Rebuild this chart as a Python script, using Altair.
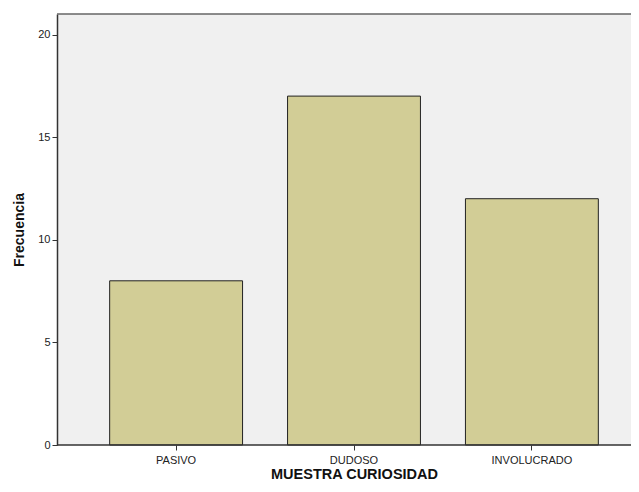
import altair as alt
import pandas as pd

categories = ["PASIVO", "DUDOSO", "INVOLUCRADO"]
frecuencias = [8, 17, 12]
y_ticks = [0, 5, 10, 15, 20]

df = pd.DataFrame({"cat": categories, "freq": frecuencias})

W = 574
H = 431

bars = alt.Chart(df).mark_bar(
    color="#d2cd96", stroke="#222222", strokeWidth=1
).encode(
    x=alt.X("cat:N", sort=categories,
            scale=alt.Scale(range=[0, 594], paddingInner=0.253, paddingOuter=0.296),
            axis=alt.Axis(title="MUESTRA CURIOSIDAD", labelAngle=0, labelFontSize=11,
                          labelColor="#222222", labelFont="Arial",
                          titleFont="Arial", titleFontSize=14.5, titleFontWeight="bold",
                          titleColor="#111111", titlePadding=2, titleX=297,
                          tickSize=5, tickColor="#333333", domain=False,
                          labelPadding=4)),
    y=alt.Y("freq:Q", scale=alt.Scale(domain=[0, 21], nice=False),
            axis=alt.Axis(title="Frecuencia", values=y_ticks, labelFontSize=11,
                          labelColor="#222222", labelFont="Arial",
                          titleFont="Arial", titleFontSize=14, titleFontWeight="bold",
                          titleColor="#111111", titlePadding=11,
                          tickSize=5, tickColor="#333333", domainColor="#333333",
                          domainWidth=1.5, grid=False, labelPadding=2)),
)

frame = pd.DataFrame({"y": [21, 0], "c": ["top", "bottom"]})
top = alt.Chart(frame).mark_rule(strokeWidth=1.5).encode(
    y="y:Q", x=alt.value(0), x2=alt.value(W),
    color=alt.Color("c:N", scale=alt.Scale(domain=["top", "bottom"],
                                           range=["#666666", "#333333"]), legend=None),
)

chart = alt.layer(bars, top).properties(
    width=W, height=H, background="white",
    autosize=alt.AutoSizeParams(type="none"),
    padding={"top": 6, "left": 49, "right": 0, "bottom": 39}
).configure_view(fill="#f0f0f0", stroke=None)

chart.save("out.html", embed_options={"renderer": "svg", "actions": False})
